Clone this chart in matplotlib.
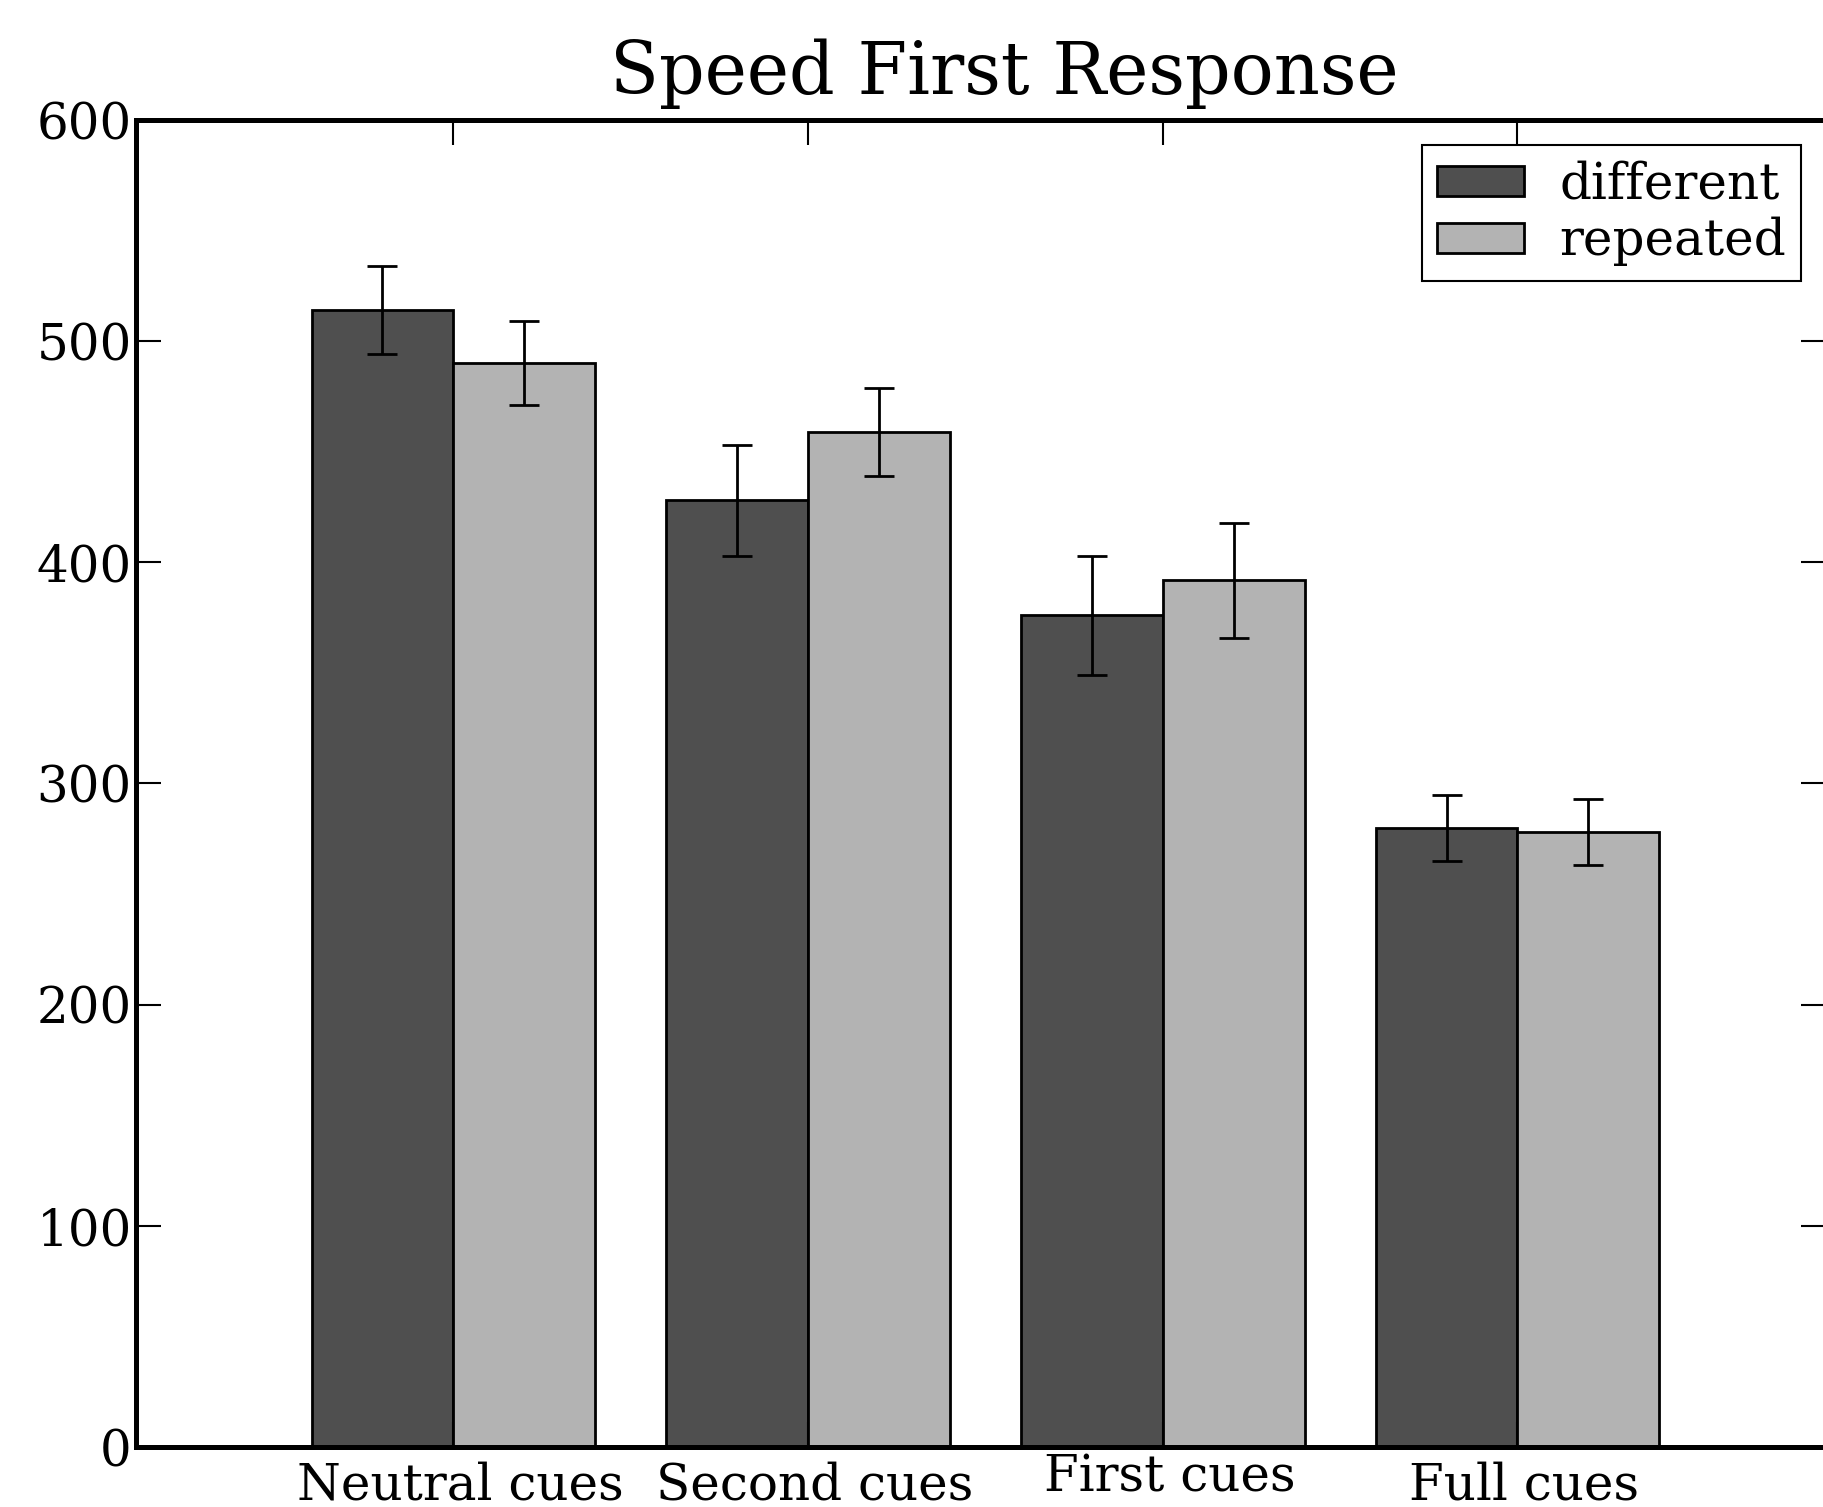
import numpy as np
import matplotlib
matplotlib.use('agg')
import matplotlib.pyplot as plt
from matplotlib.transforms import ScaledTranslation

# Data
categories = ['Neutral cues', 'Second cues', 'First cues', 'Full cues']
different = [514, 428, 376, 280]
different_err = [20, 25, 27, 15]
repeated = [490, 459, 392, 278]
repeated_err = [19, 20, 26, 15]

plt.rcParams['font.family'] = 'DejaVu Serif'

fig = plt.figure(figsize=(18.23, 15.07), dpi=100)
# axes runs slightly past the right edge, like the reference crop
ax = fig.add_axes([136 / 1823, 60 / 1507, 1690 / 1823, 1327 / 1507])

ind = np.arange(len(categories))
width = 0.4
err_kw = dict(ecolor='black', elinewidth=2, capsize=11, capthick=2)

ax.bar(ind, different, width, align='edge', color='#4f4f4f', edgecolor='black',
       linewidth=2, yerr=different_err, error_kw=err_kw, label='different')
ax.bar(ind + width, repeated, width, align='edge', color='#b3b3b3', edgecolor='black',
       linewidth=2, yerr=repeated_err, error_kw=err_kw, label='repeated')

ax.set_xlim(-0.495, 4.27)
ax.set_ylim(0, 600)
ax.set_yticks(np.arange(0, 601, 100))
ax.set_xticks(ind + width)
ax.set_xticklabels(categories)

ax.tick_params(direction='in', length=18, width=1.5, labelsize=36,
               top=True, right=True)
ax.tick_params(axis='x', pad=10)
ax.tick_params(axis='y', pad=3)
for s in ax.spines.values():
    s.set_linewidth(3.6)

# small nudges so the labels sit like the reference
for lab in ax.get_xticklabels():
    dy = 8 if lab.get_text() == 'First cues' else 0
    lab.set_transform(lab.get_transform() + ScaledTranslation(0.07, dy / 100, fig.dpi_scale_trans))

ax.set_title('Speed First Response', fontsize=51.5, pad=19, x=0.514)

leg = ax.legend(loc='upper right', fontsize=36, fancybox=False, framealpha=1,
                handlelength=1.75, handleheight=0.55, labelspacing=0.15,
                borderpad=0.3, handletextpad=0.7, borderaxespad=0.5)
leg.get_frame().set_edgecolor('black')
leg.get_frame().set_linewidth(1.5)

plt.savefig('out.png', dpi=100)
